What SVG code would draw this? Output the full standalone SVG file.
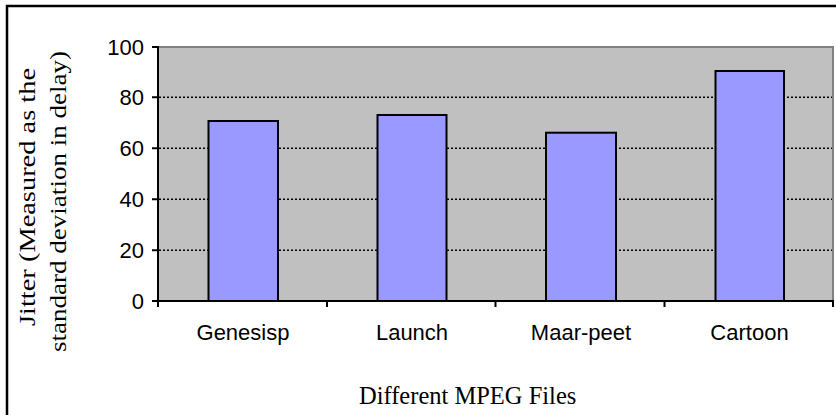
<svg xmlns="http://www.w3.org/2000/svg" width="836" height="415" viewBox="0 0 836 415">
<style>
.ax{font-family:"Liberation Sans",Arial,sans-serif;font-size:22px;fill:#000}
.tt{font-family:"Liberation Serif","Times New Roman",serif;font-size:24.5px;fill:#000}
.bar{fill:#9999FF;stroke:#000;stroke-width:2}
.grid{stroke:#000;stroke-width:1.5;stroke-dasharray:2 2}
.axis{stroke:#000;stroke-width:2;fill:none}
</style>
<rect x="7" y="6" width="840" height="420" fill="#fff" stroke="#000" stroke-width="2.5"/>
<g id="plot">
<rect x="158" y="47" width="675" height="254" fill="#C0C0C0" stroke="#808080" stroke-width="2"/>
<g id="gridlines">
<line class="grid" x1="159" y1="97.2" x2="832" y2="97.2"/>
<line class="grid" x1="159" y1="148.2" x2="832" y2="148.2"/>
<line class="grid" x1="159" y1="199.2" x2="832" y2="199.2"/>
<line class="grid" x1="159" y1="250.2" x2="832" y2="250.2"/>
</g>
</g>
<g id="bars">
<rect id="bar-genesisp" class="bar" x="208.5" y="121" width="69.5" height="180"/>
<rect id="bar-launch" class="bar" x="377.5" y="115" width="69" height="186"/>
<rect id="bar-maarpeet" class="bar" x="546" y="132.7" width="70" height="168.3"/>
<rect id="bar-cartoon" class="bar" x="715.5" y="71" width="68.5" height="230"/>
</g>
<g id="axes">
<path class="axis" d="M158 46V301H834"/>
<path class="axis" d="M152 47H158M152 97.2H158M152 148.2H158M152 199.2H158M152 250.2H158M152 301H158"/>
<path class="axis" d="M158 301V307M327 301V307M495.5 301V307M664.5 301V307M833 301V307"/>
</g>
<g id="y-labels" class="ax" text-anchor="end">
<text x="144" y="55">100</text>
<text x="144" y="105">80</text>
<text x="144" y="156">60</text>
<text x="144" y="207">40</text>
<text x="144" y="258">20</text>
<text x="144" y="309">0</text>
</g>
<g id="x-labels" class="ax" text-anchor="middle">
<text x="243" y="340">Genesisp</text>
<text x="412" y="340">Launch</text>
<text x="581" y="340">Maar-peet</text>
<text x="749.5" y="340">Cartoon</text>
</g>
<text class="tt" x="359" y="404">Different MPEG Files</text>
<g class="tt" text-anchor="middle" transform="rotate(-90)" style="font-size:24px">
<text x="-197" y="35" textLength="258" lengthAdjust="spacingAndGlyphs">Jitter (Measured as the</text>
<text x="-201.5" y="65.5" textLength="301" lengthAdjust="spacingAndGlyphs">standard deviation in delay)</text>
</g>
</svg>
